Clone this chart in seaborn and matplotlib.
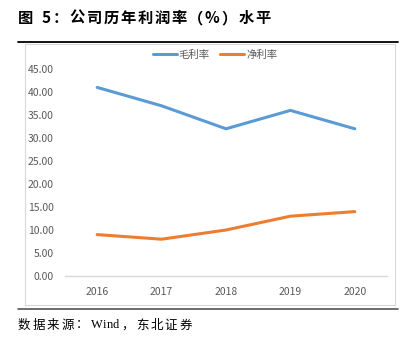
import matplotlib
matplotlib.use("Agg")
import matplotlib.pyplot as plt
from matplotlib.lines import Line2D
from matplotlib.patches import Rectangle
import seaborn as sns
import pandas as pd

years = ["2016", "2017", "2018", "2019", "2020"]
gross_margin = [41, 37, 32, 36, 32]
net_margin = [9, 8, 10, 13, 14]
series_names = ["毛利率", "净利率"]
y_ticks = [0, 5, 10, 15, 20, 25, 30, 35, 40, 45]
title_text = "图 5：公司历年利润率（%）水平"
source_text = "数据来源：Wind，东北证券"

sns.set_style("white")
plt.rcParams["font.family"] = ["Noto Sans CJK SC", "DejaVu Sans"]

df = pd.DataFrame({
    "year": years * 2,
    "value": gross_margin + net_margin,
    "series": [series_names[0]] * len(years) + [series_names[1]] * len(years),
})

W, H = 408, 339
fig = plt.figure(figsize=(W / 100, H / 100), dpi=100)
ax = fig.add_axes([65 / W, 1 - 276 / H, (387 - 65) / W, (276 - 69) / H])

palette = {series_names[0]: "#5B9BD5", series_names[1]: "#ED7D31"}
sns.lineplot(data=df, x="year", y="value", hue="series", palette=palette,
             linewidth=2.2, ax=ax, legend=False, sort=False)

ax.set_xlim(-0.5, len(years) - 0.5)
ax.set_ylim(0, 45)
ax.set_yticks(y_ticks)
ax.set_yticklabels([f"{v:.2f}" for v in y_ticks])
ax.set_xlabel("")
ax.set_ylabel("")
for s in ["top", "right", "left"]:
    ax.spines[s].set_visible(False)
ax.spines["bottom"].set_color("#D9D9D9")
ax.spines["bottom"].set_linewidth(1.0)
ax.tick_params(axis="both", length=0, labelsize=7.5, labelcolor="#595959")
ax.tick_params(axis="x", pad=8)
ax.tick_params(axis="y", pad=8)
ax.grid(False)

handles = [Line2D([0], [0], color=palette[n], lw=2.2) for n in series_names]
fig.legend(handles, series_names, loc="center", bbox_to_anchor=(215 / W, 1 - 55 / H),
           ncol=2, frameon=False, fontsize=7.5, labelcolor="#595959",
           handlelength=2.3, handletextpad=0.2, columnspacing=1.0)

# chart box
fig.patches.append(Rectangle((25 / W, 1 - 305 / H), (395 - 25) / W, (305 - 44) / H,
                             transform=fig.transFigure, fill=False, edgecolor="#D9D9D9", lw=0.8))
# title rule and footer rule
fig.add_artist(Line2D([18 / W, 398 / W], [1 - 42 / H] * 2, color="black", lw=1.3,
                      transform=fig.transFigure))
fig.add_artist(Line2D([18 / W, 398 / W], [1 - 309 / H] * 2, color="#555555", lw=1.2,
                      transform=fig.transFigure))

renderer = fig.canvas.get_renderer()


def spaced_text(x_px, y_px, text, size, weight, gap_px):
    x = x_px
    for i, ch in enumerate(text):
        is_ascii = ord(ch) < 128
        fam = ["Liberation Serif", "DejaVu Serif"] if (is_ascii and ch.isalpha()) else ["Noto Sans CJK SC", "DejaVu Sans"]
        t = fig.text(x / W, 1 - y_px / H, ch, fontsize=size, fontweight=weight,
                     va="center", ha="left", color="black", family=fam)
        w = t.get_window_extent(renderer=renderer).width
        if ch == " ":
            w = size * 0.45
        nxt = text[i + 1] if i + 1 < len(text) else ""
        both_ascii = is_ascii and nxt != "" and ord(nxt) < 128 and ch != " " and nxt != " "
        x += w + (0.3 if both_ascii else gap_px)


spaced_text(18, 18, title_text, 11, "bold", 1.7)
spaced_text(18, 325, source_text, 9, "normal", 2.0)

fig.savefig("out.png", dpi=100)
